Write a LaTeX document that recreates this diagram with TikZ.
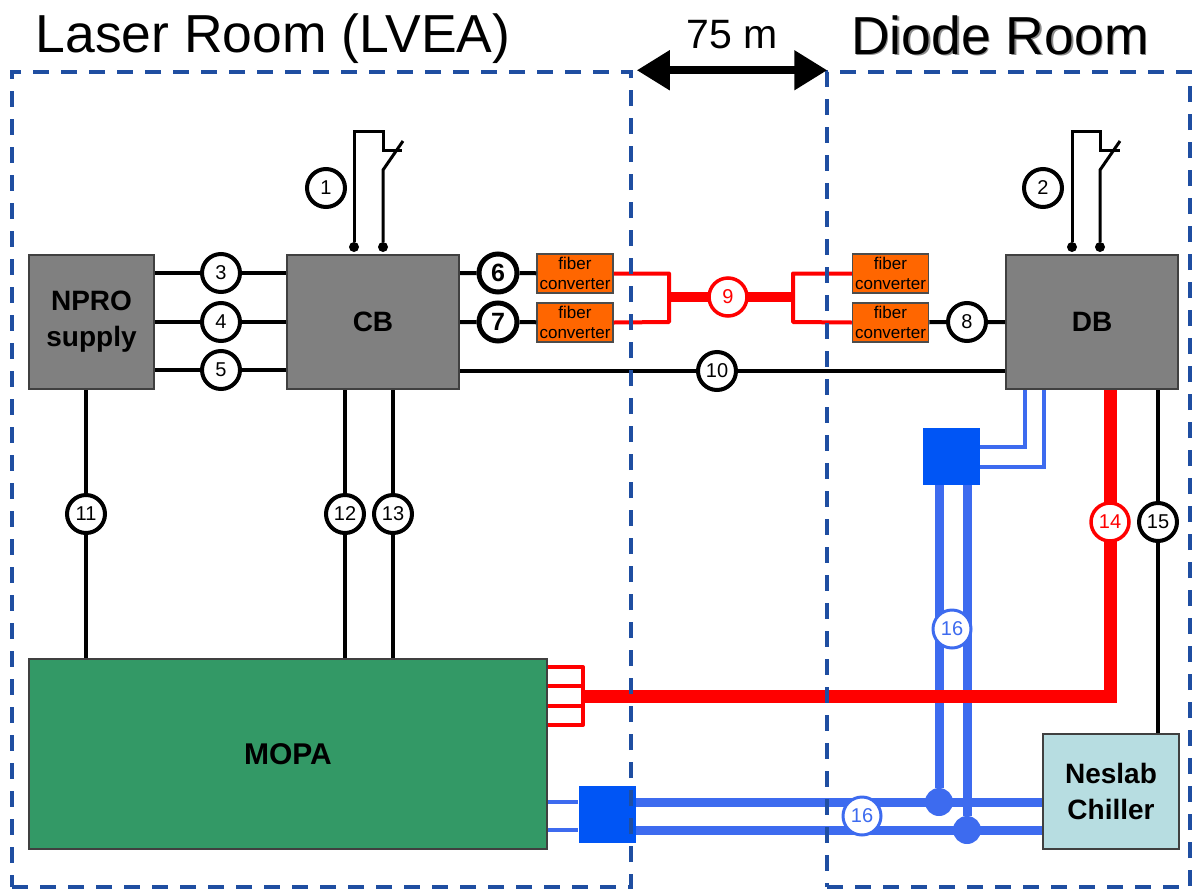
\documentclass[tikz,border=0pt]{standalone}
\usepackage{fontspec}
\setmainfont{Liberation Sans}
\usetikzlibrary{arrows.meta}
\usepackage{xcolor}
\definecolor{roomblue}{HTML}{1F4EA1}
\definecolor{pipeblue}{HTML}{3D6BEF}
\definecolor{tankblue}{HTML}{0055F5}
\definecolor{boxgray}{HTML}{808080}
\definecolor{mopagreen}{HTML}{339966}
\definecolor{chillerblue}{HTML}{B7DDE1}
\definecolor{fiberorange}{HTML}{FF6600}

\begin{document}
\begin{tikzpicture}[x=1pt, y=-1pt,
    unitbox/.style={draw=black!75, line width=2pt, fill=boxgray, align=center, font=\fontsize{28}{36}\selectfont\bfseries},
    fiberbox/.style={draw=black!70, line width=1.5pt, fill=fiberorange, align=center, inner sep=0pt, minimum width=76, minimum height=39, font=\fontsize{17}{20}\selectfont},
    tank/.style={fill=tankblue, inner sep=0pt, minimum size=57},
    blackcirc/.style={circle, draw=black, fill=white, line width=4pt, inner sep=0pt, minimum size=38, font=\fontsize{20}{24}\selectfont},
    boldcirc/.style={blackcirc, line width=5pt, font=\fontsize{25}{30}\selectfont\bfseries},
    redcirc/.style={blackcirc, draw=red, text=red, line width=3.5pt},
    bluecirc/.style={blackcirc, draw=pipeblue, text=pipeblue, line width=3pt},
    bluedot/.style={circle, fill=pipeblue, inner sep=0pt, minimum size=28},
    wire/.style={line width=4pt},
    thinwire/.style={line width=3pt},
    enddot/.style={circle, fill=black, inner sep=0pt, minimum size=10},
    redthin/.style={red, line width=4pt, line join=round},
    redthick/.style={red, line width=13pt},
    pipethin/.style={pipeblue, line width=4pt},
    pipethick/.style={pipeblue, line width=9pt},
    roombox/.style={draw=roomblue, line width=3.5pt, dash pattern=on 16pt off 12pt},
    title/.style={inner sep=0pt, font=\fontsize{53.5}{60}\selectfont}
]
    \useasboundingbox (0,0) rectangle (1192,895);

    \node[title] (lasertext) at (273,39) {Laser Room (LVEA)};
    \node[title, text=black!45] (diodeshadow) at (1001.5,36.5) {Diode Room};
    \node[title] (diodetext) at (1000,35) {Diode Room};
    \node[inner sep=0pt, font=\fontsize{41}{46}\selectfont] (dist) at (732,35) {75 m};

    % main units
    \node[unitbox, minimum width=125, minimum height=134] (npro) at (91.5,322) {NPRO\\supply};
    \node[unitbox, minimum width=172, minimum height=134] (cb) at (373,322) {CB};
    \node[unitbox, minimum width=172, minimum height=134] (db) at (1092,322) {DB};
    \node[unitbox, fill=mopagreen, minimum width=518, minimum height=190, font=\fontsize{30}{36}\selectfont\bfseries] (mopa) at (288,754) {MOPA};
    \node[unitbox, fill=chillerblue, minimum width=136, minimum height=115] (chiller) at (1111,791.5) {Neslab\\Chiller};

    \node[fiberbox] (fc6) at (575,273.5) {fiber\\converter};
    \node[fiberbox] (fc7) at (575,322.5) {fiber\\converter};
    \node[fiberbox] (fc6r) at (890.5,273.5) {fiber\\converter};
    \node[fiberbox] (fc8) at (890.5,322.5) {fiber\\converter};

    \node[tank] (tankup) at (951.5,456.5) {};
    \node[tank] (tanklow) at (607,814) {};

    % numbered cables
    \node[blackcirc] (n3) at (221,273) {3};
    \node[blackcirc] (n4) at (221,322) {4};
    \node[blackcirc] (n5) at (221,370) {5};
    \node[boldcirc] (n6) at (498,273) {6};
    \node[boldcirc] (n7) at (498,322) {7};
    \node[blackcirc] (n8) at (967,322) {8};
    \node[blackcirc] (n10) at (717,371) {10};
    \node[blackcirc] (n11) at (86,514) {11};
    \node[blackcirc] (n12) at (345,514) {12};
    \node[blackcirc] (n13) at (393,514) {13};
    \node[blackcirc] (n15) at (1158,522) {15};

    \draw[wire] (npro.east |- n3) -- (n3) -- (cb.west |- n3);
    \draw[wire] (npro.east |- n4) -- (n4) -- (cb.west |- n4);
    \draw[wire] (npro.east |- n5) -- (n5) -- (cb.west |- n5);
    \draw[wire] (cb.east |- n6) -- (n6) -- (fc6);
    \draw[wire] (cb.east |- n7) -- (n7) -- (fc7);
    \draw[wire] (fc8) -- (n8) -- (db.west |- n8);
    \draw[wire] (cb.east |- n10) -- (n10) -- (db.west |- n10);
    \draw[wire] (npro.south -| n11) -- (n11) -- (mopa.north -| n11);
    \draw[wire] (cb.south -| n12) -- (n12) -- (mopa.north -| n12);
    \draw[wire] (cb.south -| n13) -- (n13) -- (mopa.north -| n13);
    \draw[wire] (db.south -| n15) -- (n15) -- (chiller.north -| n15);

    % interlock switches
    \node[blackcirc] (n1) at (326,188) {1};
    \node[enddot] (s1a) at (354,247) {};
    \node[enddot] (s1b) at (383,247) {};
    \draw[thinwire] (s1a) -- (354,131) -- (383,131) -- (383,150) -- (402,150);
    \draw[thinwire] (s1b) -- (383,170) -- (403,141);
    \node[blackcirc] (n2) at (1043,188) {2};
    \node[enddot] (s2a) at (1072,247) {};
    \node[enddot] (s2b) at (1100,247) {};
    \draw[thinwire] (s2a) -- (1072,131) -- (1100,131) -- (1100,150) -- (1120,150);
    \draw[thinwire] (s2b) -- (1100,170) -- (1120,141);

    % cooling water
    \node[bluedot] (d1) at (939,802) {};
    \node[bluedot] (d2) at (967,830) {};
    \draw[pipethick] (d1) -- (d1 |- tankup.south);
    \draw[pipethick] (d2) -- (d2 |- tankup.south);
    \draw[pipethick] (tanklow.east |- d1) -- (chiller.west |- d1);
    \draw[pipethick] (tanklow.east |- d2) -- (chiller.west |- d2);
    \draw[pipethin] (mopa.east |- d1) -- (tanklow.west |- d1);
    \draw[pipethin] (mopa.east |- d2) -- (tanklow.west |- d2);
    \draw[pipethin] (tankup.east |- 0,447) -| (db.south -| 1025,0);
    \draw[pipethin] (tankup.east |- 0,467) -| (db.south -| 1044,0);
    \node[bluecirc] (n16a) at (952,629) {16};
    \node[bluecirc] (n16b) at (862,816) {16};

    % fiber link
    \draw[redthin] (fc6.east) -| (669,322) -- (fc7.east);
    \draw[redthin] (fc6r.west) -| (793,322) -- (fc8.west);
    \draw[red, line width=10pt] (669,297) -- (793,297);
    \node[redcirc] (n9) at (728,297) {9};

    % diode power
    \draw[redthin] (mopa.east |- 0,667) -| (583,725) -- (mopa.east |- 0,725);
    \draw[redthin] (mopa.east |- 0,686) -- (583,686);
    \draw[redthin] (mopa.east |- 0,706) -- (583,706);
    \draw[redthick] (583,696) -| (db.south -| 1110,0);
    \node[redcirc] (n14) at (1110,522) {14};

    % rooms
    \node[roombox, minimum width=619, minimum height=815] (laser) at (321.5,479.5) {};
    \node[roombox, minimum width=363, minimum height=815] (diode) at (1008.5,479.5) {};
    \draw[line width=8pt, {Triangle[length=33pt,width=38pt]}-{Triangle[length=33pt,width=38pt]}, shorten <=4pt, shorten >=-2pt] (laser.north east) -- (diode.north west);
\end{tikzpicture}
\end{document}
